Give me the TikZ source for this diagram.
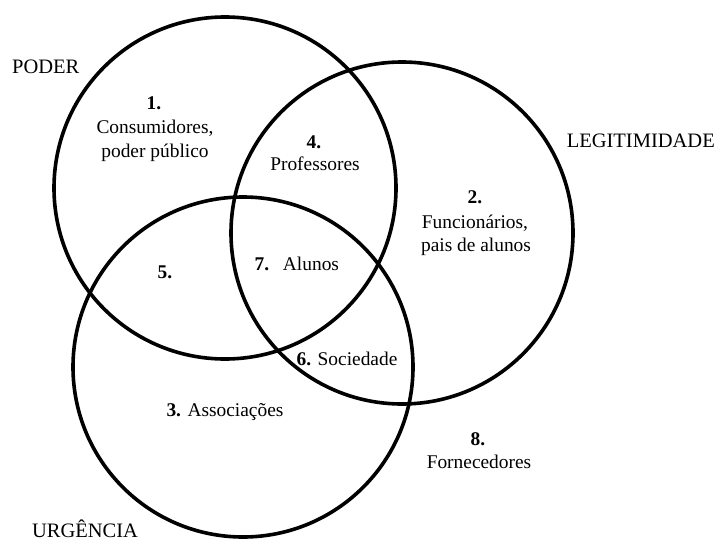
\documentclass[tikz,border=0pt]{standalone}
\usepackage{fontspec}
\setmainfont{Liberation Serif}
\begin{document}
\begin{tikzpicture}[x=1pt,y=-1pt,
  ring/.style={draw=black,line width=3.6pt},
  lbl/.style={font=\fontsize{19.4}{24}\selectfont,anchor=base,inner sep=0pt},
  head/.style={font=\fontsize{20.5}{24}\selectfont,anchor=base,inner sep=0pt}]
\useasboundingbox[fill=white] (0,0) rectangle (717,543);
\coordinate (cA) at (225,188);
\coordinate (cB) at (402,233);
\coordinate (cC) at (243,367);
\draw[ring] (cA) circle[radius=171pt];
\draw[ring] (cB) circle[radius=171pt];
\draw[ring] (cC) circle[radius=170pt];
% headings
\node[head,anchor=base west] (poder) at (12,74) {PODER};
\node[head,anchor=base east] (legit) at (715,147) {LEGITIMIDADE};
\node[head] (urg) at (85,537) {URGÊNCIA};
% region 1
\node[lbl] (n1) at (154,109) {\textbf{1.}};
\node[lbl] (t1a) at (155,133) {Consumidores,};
\node[lbl] (t1b) at (155,157) {poder público};
% region 4
\node[lbl] (n4) at (314,148) {\textbf{4.}};
\node[lbl] (t4) at (315,170) {Professores};
% region 2
\node[lbl] (n2) at (475,203) {\textbf{2.}};
\node[lbl] (t2a) at (475,228) {Funcionários,};
\node[lbl] (t2b) at (476,251) {pais de alunos};
% region 5
\node[lbl] (n5) at (165,278) {\textbf{5.}};
% region 7
\node[lbl] (n7) at (262,270) {\textbf{7.}};
\node[lbl] (t7) at (311,270) {Alunos};
% region 6
\node[lbl] (t6) at (347,365) {\textbf{6.} Sociedade};
% region 3
\node[lbl] (t3) at (225,416) {\textbf{3.} Associações};
% region 8
\node[lbl] (n8) at (478,445) {\textbf{8.}};
\node[lbl] (t8) at (479,468) {Fornecedores};
\end{tikzpicture}
\end{document}
